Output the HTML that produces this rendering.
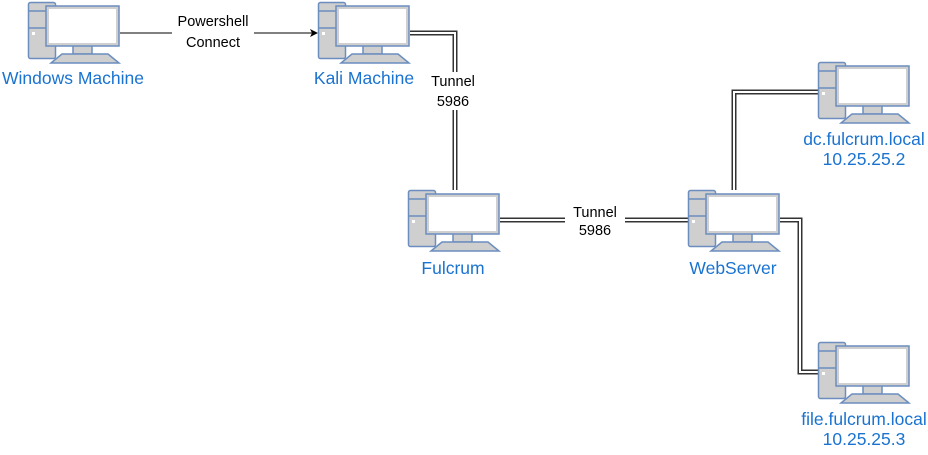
<!DOCTYPE html>
<html><head><style>
body{margin:0;background:#fff;width:928px;height:450px;overflow:hidden}
text{font-family:"Liberation Sans",sans-serif;font-size:17.5px}
.lb{fill:#1a73d0;text-anchor:middle}
.bl{fill:#000;font-size:14.5px;text-anchor:middle}
</style></head><body>
<svg width="928" height="450" xmlns="http://www.w3.org/2000/svg">
<defs>
<g id="pc">
<rect x="0.5" y="0.5" width="27" height="56" rx="2" fill="#cfcfcf" stroke="#6c8ebf" stroke-width="1.5"/>
<line x1="0.5" y1="9" x2="27.5" y2="9" stroke="#6c8ebf" stroke-width="1.5"/>
<line x1="0.5" y1="26" x2="27.5" y2="26" stroke="#6c8ebf" stroke-width="1.5"/>
<rect x="4" y="30" width="3" height="3" fill="#fff"/>
<rect x="45" y="43" width="19" height="9" fill="#cfcfcf" stroke="#6c8ebf" stroke-width="1.5"/>
<rect x="18" y="4" width="73" height="40" fill="#cfcfcf" stroke="#6c8ebf" stroke-width="1.5"/>
<rect x="21" y="7" width="67" height="34" fill="#fff"/>
<path d="M23,61 L34,52 L80,52 L91,61 Z" fill="#cfcfcf" stroke="#6c8ebf" stroke-width="1.5"/>
</g>
</defs>
<g fill="none">
<path d="M410,33 H455 V190" stroke="#333" stroke-width="5"/>
<path d="M410,33 H455 V190" stroke="#fff" stroke-width="2"/>
<path d="M500,220 H688" stroke="#333" stroke-width="5"/>
<path d="M500,220 H688" stroke="#fff" stroke-width="2"/>
<path d="M734,190 V92 H818" stroke="#333" stroke-width="5"/>
<path d="M734,190 V92 H818" stroke="#fff" stroke-width="2"/>
<path d="M780,220 H800 V372 H818" stroke="#333" stroke-width="5"/>
<path d="M780,220 H800 V372 H818" stroke="#fff" stroke-width="2"/>
<line x1="120" y1="33" x2="312" y2="33" stroke="#000" stroke-width="1"/>
</g>
<path d="M318,33 L310,29 L312,33 L310,37 Z" fill="#000"/>
<use href="#pc" x="28" y="2"/>
<use href="#pc" x="318" y="2"/>
<use href="#pc" x="408" y="190"/>
<use href="#pc" x="688" y="190"/>
<use href="#pc" x="818" y="62"/>
<use href="#pc" x="818" y="342"/>
<rect x="172" y="12" width="82" height="38" fill="#fff"/>
<text class="bl" x="213" y="26">Powershell</text>
<text class="bl" x="213" y="47">Connect</text>
<rect x="425" y="72" width="58" height="38" fill="#fff"/>
<text class="bl" x="453" y="86">Tunnel</text>
<text class="bl" x="453" y="106">5986</text>
<rect x="565" y="203" width="60" height="36" fill="#fff"/>
<text class="bl" x="595" y="217">Tunnel</text>
<text class="bl" x="595" y="235">5986</text>
<text class="lb" x="73" y="84">Windows Machine</text>
<text class="lb" x="364" y="84">Kali Machine</text>
<text class="lb" x="453" y="274">Fulcrum</text>
<text class="lb" x="733" y="274">WebServer</text>
<text class="lb" x="864" y="145">dc.fulcrum.local</text>
<text class="lb" x="864" y="165">10.25.25.2</text>
<text class="lb" x="864" y="425">file.fulcrum.local</text>
<text class="lb" x="864" y="445">10.25.25.3</text>
</svg>
</body></html>
